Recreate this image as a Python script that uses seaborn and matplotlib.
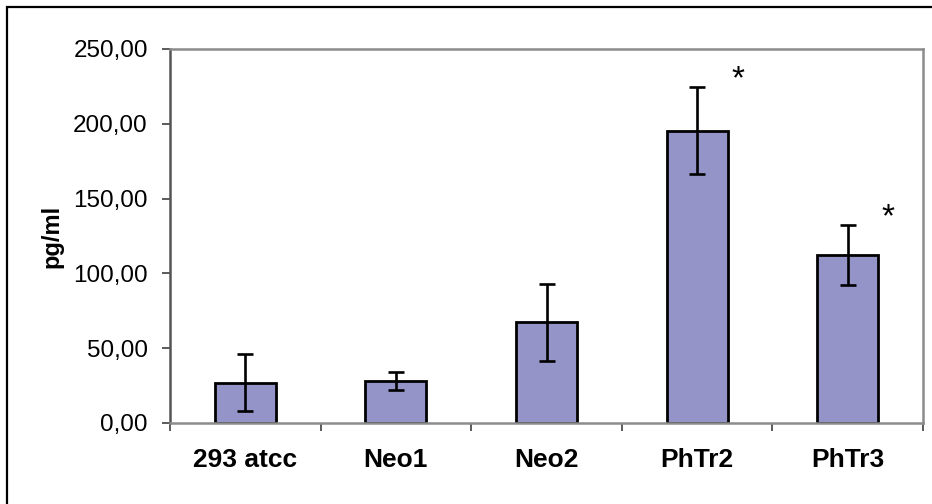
import numpy as np
import pandas as pd
import matplotlib
matplotlib.use('Agg')
import matplotlib.pyplot as plt
import matplotlib.patches as patches
from matplotlib.ticker import FuncFormatter
import seaborn as sns

groups = ['293 atcc', 'Neo1', 'Neo2', 'PhTr2', 'PhTr3']
means = [27.0, 28.2, 67.2, 195.5, 112.4]
errors = [19.0, 6.0, 26.0, 29.0, 20.0]
significant = [False, False, False, True, True]

df = pd.DataFrame({'group': groups, 'mean': means, 'err': errors})

sns.set_style('white')
plt.rcParams['font.family'] = ['Liberation Sans', 'DejaVu Sans']
plt.rcParams['text.color'] = 'black'
plt.rcParams['xtick.color'] = 'black'
plt.rcParams['ytick.color'] = 'black'
plt.rcParams['axes.labelcolor'] = 'black'

fig = plt.figure(figsize=(9.32, 5.04), dpi=100)
ax = fig.add_axes([170 / 932, 1 - 423 / 504, (923 - 170) / 932, (423 - 49) / 504])

sns.barplot(data=df, x='group', y='mean', color='#9494C8', saturation=1,
            width=0.405, edgecolor='black', linewidth=2.0, errorbar=None, ax=ax)
ax.errorbar(np.arange(len(groups)), df['mean'], yerr=df['err'], fmt='none',
            ecolor='black', elinewidth=1.9, capsize=5.5, capthick=1.9, zorder=5)

for i, (m, e, s) in enumerate(zip(means, errors, significant)):
    if s:
        ax.text(i + 0.27, m + e + 5, '*', fontsize=24, ha='center', va='center')

ax.set_xlim(-0.5, len(groups) - 0.5)
ax.set_ylim(0, 250)
ax.set_yticks(np.arange(0, 251, 50))
ax.yaxis.set_major_formatter(FuncFormatter(lambda v, p: f'{v:.2f}'.replace('.', ',')))
ax.set_xticks(np.arange(-0.5, len(groups), 1), minor=False)
ax.set_xticklabels([])
ax.set_xticks(np.arange(len(groups)), minor=True)
ax.set_xticklabels(groups, minor=True, fontsize=19, fontweight='bold')
ax.tick_params(axis='x', which='minor', length=0, pad=18)
ax.tick_params(axis='x', which='major', direction='out', length=6, width=1.2, color='#404040', bottom=True)
ax.tick_params(axis='y', direction='out', length=6, width=1.2, color='#404040', left=True,
               labelsize=17.5, pad=10)

ax.set_xlabel('')
ax.set_ylabel('pg/ml', fontsize=17, fontweight='bold')
ax.yaxis.set_label_coords(-0.142, 0.5)

for side in ['top', 'right', 'bottom']:
    ax.spines[side].set_visible(True)
    ax.spines[side].set_color('#8c8c8c')
    ax.spines[side].set_linewidth(1.8)
ax.spines['left'].set_color('#555555')
ax.spines['left'].set_linewidth(1.8)

frame = patches.Rectangle((7 / 932, -0.1), 1.2, 1.1 - 7 / 504, transform=fig.transFigure,
                          fill=False, edgecolor='black', linewidth=1.6, clip_on=False)
fig.patches.append(frame)

fig.savefig('out.png', dpi=100)
